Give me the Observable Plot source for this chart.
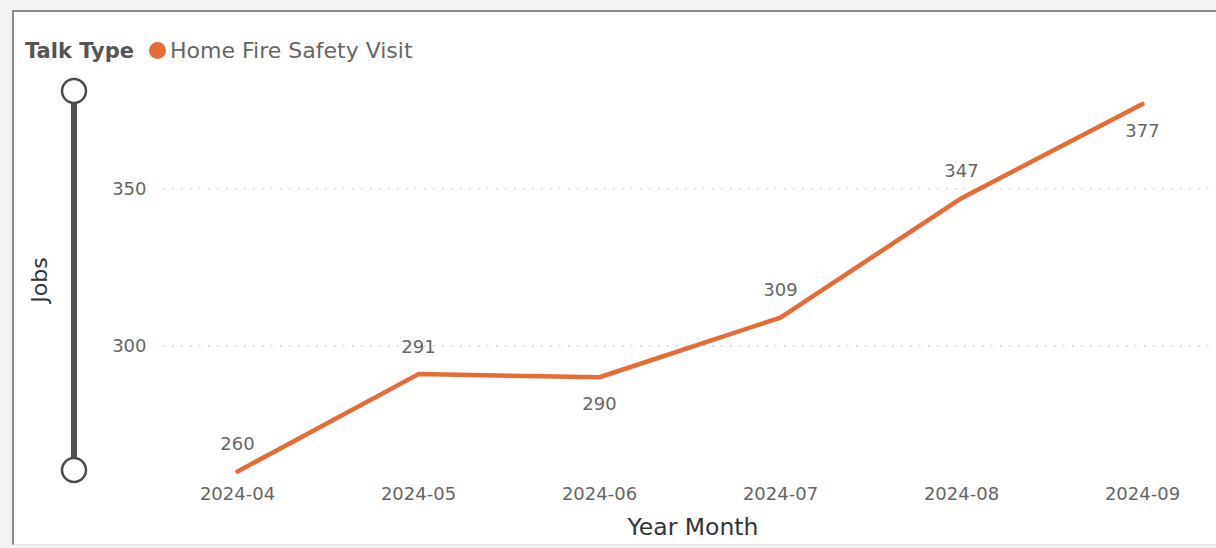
<!DOCTYPE html>
<html>
<head>
<meta charset="utf-8">
<script src="https://cdn.jsdelivr.net/npm/d3@7"></script>
<script src="https://cdn.jsdelivr.net/npm/@observablehq/plot@0.6"></script>
<style>
  html, body { margin: 0; padding: 0; background: #f2f2f2; }
  #wrap { position: relative; width: 1216px; height: 548px; overflow: hidden; background: #f2f2f2; font-family: "DejaVu Sans", sans-serif; }
  #panel { position: absolute; left: 12px; top: 10px; width: 1204px; height: 535px; background: #fff;
           border-left: 2px solid #8a8a8a; border-top: 2px solid #8a8a8a; border-bottom: 1px solid #e2e2e2; box-sizing: border-box; }
  #plot { position: absolute; left: 0; top: 0; }
  #legend { position: absolute; left: 25px; top: 38px; font-size: 22px; color: #666; white-space: nowrap; display: flex; align-items: center; }
  #legend b { color: #555; margin-right: 15px; font-size: 21px; }
  #legend .dot { display: inline-block; width: 17px; height: 17px; border-radius: 50%; background: #E66C37; margin-right: 4px; }
  #xtitle { position: absolute; left: 0; width: 1386px; top: 513px; text-align: center; font-size: 23.5px; color: #333; }
  #ytitle { position: absolute; left: 39px; top: 280px; font-size: 22px; color: #333; transform: translate(-50%, -50%) rotate(-90deg); white-space: nowrap; }
  #slider { position: absolute; left: 0; top: 0; }
</style>
</head>
<body>
<div id="wrap">
  <div id="panel"></div>
  <div id="legend"><b>Talk Type</b><span class="dot"></span><span>Home Fire Safety Visit</span></div>
  <svg id="slider" width="120" height="548">
    <line x1="74" x2="74" y1="100" y2="461" stroke="#505050" stroke-width="6"/>
    <circle cx="74" cy="91" r="12" fill="#fff" stroke="#4a4a4a" stroke-width="2.5"/>
    <circle cx="74" cy="470" r="12" fill="#fff" stroke="#4a4a4a" stroke-width="2.5"/>
  </svg>
  <div id="ytitle">Jobs</div>
  <div id="xtitle">Year Month</div>
  <div id="plot"></div>
</div>
<script>
const months = ["2024-04", "2024-05", "2024-06", "2024-07", "2024-08", "2024-09"];
const jobs = [260, 291, 290, 309, 347, 377];
const yTicks = [300, 350];
const seriesName = "Home Fire Safety Visit";

const data = months.map((m, i) => ({month: m, jobs: jobs[i], talk: seriesName}));
// labels below the line where the line dips or at the end point
const below = data.filter((d, i) => (i > 0 && d.jobs < data[i - 1].jobs) || i === data.length - 1);
const above = data.filter(d => !below.includes(d));

const chart = Plot.plot({
  width: 1216,
  height: 548,
  marginLeft: 163,
  marginRight: 0,
  marginTop: 94,
  marginBottom: 77,
  style: {fontFamily: "DejaVu Sans, sans-serif", fontSize: "18px", color: "#666", background: "transparent", overflow: "visible"},
  x: {type: "point", domain: months, padding: 0.4, label: null},
  y: {domain: [260, 380], label: null},
  marks: [
    Plot.gridY(yTicks, {stroke: "#bdbdbd", strokeOpacity: 1, strokeDasharray: "1.5,7.5", strokeWidth: 1.2}),
    Plot.axisX({tickSize: 0, tickPadding: 16, fontSize: 18, fill: "#666", label: null}),
    Plot.axisY({ticks: yTicks, tickSize: 0, tickPadding: 17, fontSize: 18, fill: "#666", label: null}),
    Plot.line(data, {x: "month", y: "jobs", stroke: "#E66C37", strokeWidth: 4.5, strokeLinecap: "round", strokeLinejoin: "round"}),
    Plot.text(above, {x: "month", y: "jobs", text: d => String(d.jobs), dy: -27, fill: "#666", fontSize: 18}),
    Plot.text(below, {x: "month", y: "jobs", text: d => String(d.jobs), dy: 27, fill: "#666", fontSize: 18})
  ]
});
document.getElementById("plot").appendChild(chart);
</script>
</body>
</html>
